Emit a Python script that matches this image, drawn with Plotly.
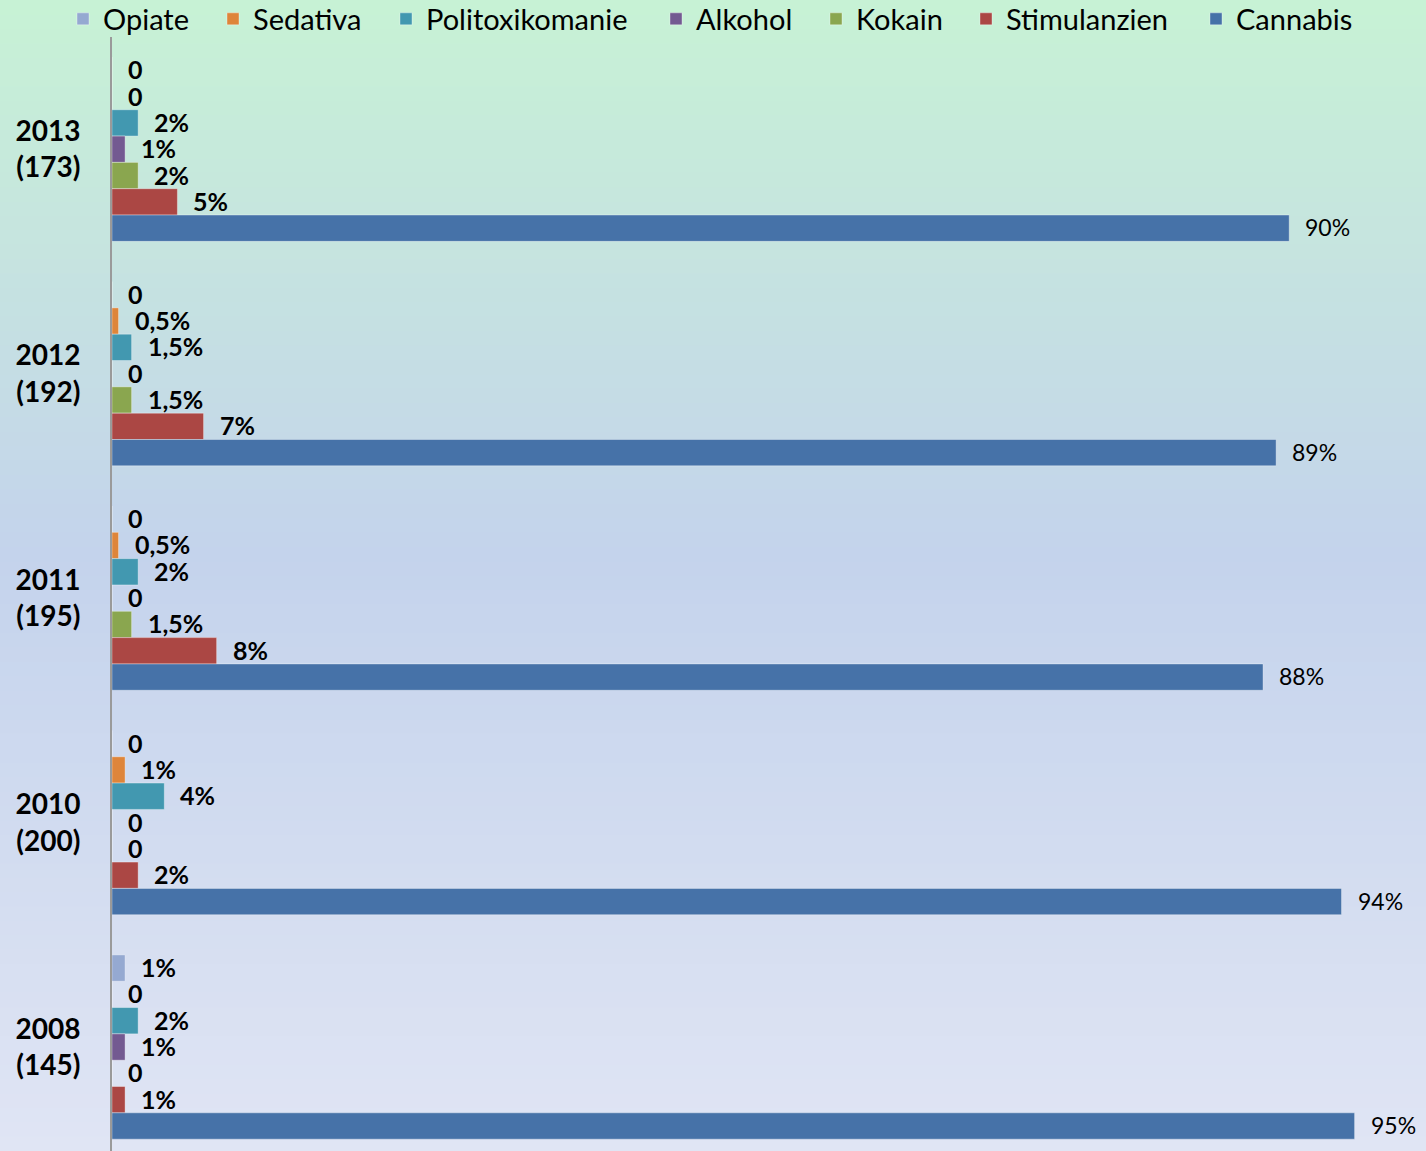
import plotly.graph_objects as go

# Survey years with number of respondents
years = ["2013", "2012", "2011", "2010", "2008"]
respondents = [173, 192, 195, 200, 145]

series_names = ["Opiate", "Sedativa", "Politoxikomanie", "Alkohol",
                "Kokain", "Stimulanzien", "Cannabis"]
series_colors = ["#95A9D1", "#DE853A", "#4298B0", "#735A91",
                 "#8AA64F", "#AB4744", "#4672A8"]

# Share of each substance per year (percent)
opiate = [0, 0, 0, 0, 1]
sedativa = [0, 0.5, 0.5, 1, 0]
politox = [2, 1.5, 2, 4, 2]
alkohol = [1, 0, 0, 0, 1]
kokain = [2, 1.5, 1.5, 0, 0]
stimulanzien = [5, 7, 8, 2, 1]
cannabis = [90, 89, 88, 94, 95]

# Printed labels
opiate_lbl = ["0", "0", "0", "0", "1%"]
sedativa_lbl = ["0", "0,5%", "0,5%", "1%", "0"]
politox_lbl = ["2%", "1,5%", "2%", "4%", "2%"]
alkohol_lbl = ["1%", "0", "0", "0", "1%"]
kokain_lbl = ["2%", "1,5%", "1,5%", "0", "0"]
stimulanzien_lbl = ["5%", "7%", "8%", "2%", "1%"]
cannabis_lbl = ["90%", "89%", "88%", "94%", "95%"]

values = [opiate, sedativa, politox, alkohol, kokain, stimulanzien, cannabis]
labels = [opiate_lbl, sedativa_lbl, politox_lbl, alkohol_lbl,
          kokain_lbl, stimulanzien_lbl, cannabis_lbl]

W, H = 1426, 1151
M_L, M_R, M_T, M_B = 112, 0, 36.75, 0
BAND = 224.5            # pixel height of one year band
BAR_PX = 26.33          # pixel height of one bar
PX_PER_PCT = 13.08

plot_w = W - M_L - M_R
plot_h = H - M_T - M_B
x_max = plot_w / PX_PER_PCT
y_bottom = -0.5 + plot_h / BAND

# left edge (px) of each legend swatch along the top row
legend_x_px = [78, 228, 401, 671, 831, 981, 1211]

fig = go.Figure()
legend_layouts = {}
for i, (name, color, vals) in enumerate(zip(series_names, series_colors, values)):
    key = "legend" if i == 0 else "legend%d" % (i + 1)
    fig.add_trace(go.Bar(
        name=name, y=years, x=vals, orientation="h",
        marker=dict(color=color, line=dict(color="rgba(255,255,255,0.35)", width=1)),
        hovertemplate=name + ": %{x}%<extra></extra>",
        legend=key,
    ))
    legend_layouts[key] = dict(
        orientation="h", xref="container", yref="container",
        x=(legend_x_px[i] - 15) / W, y=1 - 19 / H,
        xanchor="left", yanchor="middle",
        font=dict(family="Lato", size=29, color="black"),
        bgcolor="rgba(0,0,0,0)",
    )

# Value labels to the right of each bar (y given as category index)
annotations = []
for i, (name, vals, lbls) in enumerate(zip(series_names, values, labels)):
    is_main = name == "Cannabis"
    for j, (v, t) in enumerate(zip(vals, lbls)):
        annotations.append(dict(
            x=v, y=j, xref="x", yref="y", text=t, showarrow=False,
            xanchor="left", yanchor="middle",
            xshift=14, yshift=(3 - i) * BAR_PX + 1,
            font=dict(family="Lato", size=23 if is_main else 25,
                      color="black", weight="normal" if is_main else "bold"),
        ))

# Vertical background gradient: green at top, blue in the middle, pale lavender at bottom
stops = [(0.0, (199, 242, 213)), (0.48, (196, 211, 236)), (1.0, (224, 229, 244))]


def grad_color(t):
    for (t0, c0), (t1, c1) in zip(stops[:-1], stops[1:]):
        if t0 <= t <= t1:
            f = (t - t0) / (t1 - t0)
            return "rgb(%d,%d,%d)" % tuple(round(a + (b - a) * f) for a, b in zip(c0, c1))
    return "rgb(%d,%d,%d)" % stops[-1][1]


shapes = []
bands = 80
for k in range(bands):
    p0 = H * k / bands - (2 if k == 0 else 0)
    p1 = H * (k + 1) / bands + (1 if k < bands - 1 else 3)
    shapes.append(dict(
        type="rect", xref="paper", yref="paper", layer="below",
        x0=-(M_L + 2) / plot_w, x1=1 + (M_R + 2) / plot_w,
        y0=(H - M_B - p1) / plot_h, y1=(H - M_B - p0) / plot_h,
        fillcolor=grad_color((k + 0.5) / bands), line=dict(width=0),
    ))

tick_text = ["%s<br>(%d)" % (y, r) for y, r in zip(years, respondents)]

fig.update_layout(
    width=W, height=H,
    margin=dict(l=M_L, r=M_R, t=M_T, b=M_B, pad=0, autoexpand=False),
    barmode="group", bargap=0.179, bargroupgap=0,
    paper_bgcolor="rgba(0,0,0,0)", plot_bgcolor="rgba(0,0,0,0)",
    font=dict(family="Lato", color="black"),
    showlegend=True,
    xaxis=dict(range=[0, x_max], showticklabels=False, showgrid=False,
               zeroline=False, showline=False, ticks="", fixedrange=True),
    yaxis=dict(
        type="category", categoryorder="array", categoryarray=years,
        range=[y_bottom, -0.5], tickmode="array", tickvals=years, ticktext=tick_text,
        showline=True, linecolor="#9A9A9A", linewidth=2, showgrid=False,
        zeroline=False, ticks="", ticklabelstandoff=24,
        tickfont=dict(family="Lato", size=28, color="black", weight="bold"),
    ),
    annotations=annotations,
    shapes=shapes,
    **legend_layouts,
)

fig.write_html("out.html")
